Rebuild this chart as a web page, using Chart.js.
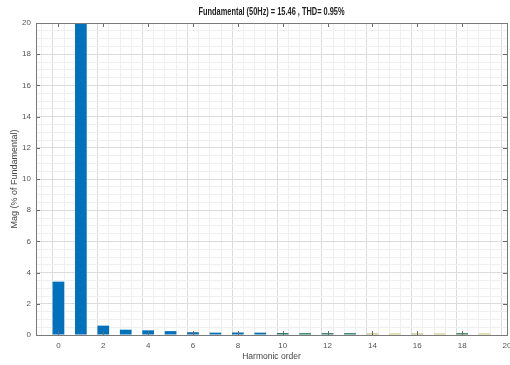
<!DOCTYPE html>
<html>
<head>
<meta charset="utf-8">
<script src="https://cdn.jsdelivr.net/npm/chart.js@4"></script>
<style>
  html, body { margin: 0; padding: 0; background: #fff; }
  #wrap { width: 510px; height: 365px; position: relative; }
</style>
</head>
<body>
<div id="wrap"><canvas id="fft"></canvas></div>
<script>
// harmonic spectrum (MATLAB powergui FFT style)
const ORDERS = [0, 1, 2, 3, 4, 5, 6, 7, 8, 9, 10, 11, 12, 13, 14, 15, 16, 17, 18, 19];
const MAGS = [3.42, 100, 0.6, 0.34, 0.3, 0.25, 0.18, 0.15, 0.16, 0.15, 0.13, 0.12, 0.12, 0.12, 0.1, 0.1, 0.1, 0.1, 0.12, 0.1];
const BAR_COLORS = ['#0072BD', '#0072BD', '#0072BD', '#0072BD', '#0072BD', '#0072BD', '#0A6FAE', '#0A6FAE', '#0A6FAE', '#0A6FAE',
  '#2A7A66', '#2A7A66', '#2A7A66', '#2A7A66', '#B8B46A', '#C8C27A', '#B8B46A', '#C8C27A', '#3F7A5A', '#C8C27A'];
const X_TICKS = [0, 2, 4, 6, 8, 10, 12, 14, 16, 18, 20];
const Y_TICKS = [0, 2, 4, 6, 8, 10, 12, 14, 16, 18, 20];
const TITLE = 'Fundamental (50Hz) = 15.46 , THD= 0.95%';

(function () {
  'use strict';

  var FONT = '"Liberation Sans", Arial, sans-serif';
  var AXIS_TXT = '#555555';
  var MAJOR = '#dcdcdc';
  var MINOR = '#efefef';

  function isMajor(v, list) {
    return list.indexOf(Math.round(v * 100) / 100) !== -1;
  }

  var points = ORDERS.map(function (o, i) { return { x: o, y: MAGS[i] }; });

  // box around the axes + inward tick marks, and the title over the plot
  var framePlugin = {
    id: 'frame',
    afterDatasetsDraw: function (chart) {
      var ctx = chart.ctx, a = chart.chartArea;
      var xs = chart.scales.x, ys = chart.scales.y;
      var len = 4;
      ctx.save();
      ctx.strokeStyle = '#6a6a6a';
      ctx.lineWidth = 1;
      ctx.beginPath();
      X_TICKS.forEach(function (t) {
        var px = Math.round(xs.getPixelForValue(t)) + 0.5;
        if (px > a.right) return;
        ctx.moveTo(px, a.bottom); ctx.lineTo(px, a.bottom - len);
        ctx.moveTo(px, a.top); ctx.lineTo(px, a.top + len);
      });
      Y_TICKS.forEach(function (t) {
        var py = Math.round(ys.getPixelForValue(t)) + 0.5;
        ctx.moveTo(a.left, py); ctx.lineTo(a.left + len, py);
        ctx.moveTo(a.right, py); ctx.lineTo(a.right - len, py);
      });
      ctx.stroke();
      ctx.strokeStyle = '#7a7a7a';
      ctx.strokeRect(Math.round(a.left) + 0.5, Math.round(a.top) + 0.5,
        Math.round(a.right - a.left), Math.round(a.bottom - a.top));
      // title is squeezed horizontally like the narrow font of the source
      ctx.fillStyle = '#222222';
      ctx.font = 'bold 10px ' + FONT;
      ctx.textAlign = 'center';
      ctx.textBaseline = 'middle';
      ctx.translate((a.left + a.right) / 2, 12);
      ctx.scale(0.74, 1);
      ctx.fillText(TITLE, 0, 0);
      ctx.restore();
    }
  };

  new Chart(document.getElementById('fft'), {
    type: 'bar',
    data: {
      datasets: [{
        data: points,
        backgroundColor: BAR_COLORS,
        borderWidth: 0,
        // ruler is the 0.5 minor tick step, so 1.04 -> 0.52 harmonic
        barPercentage: 1.04,
        categoryPercentage: 1
      }]
    },
    plugins: [framePlugin],
    options: {
      responsive: true,
      maintainAspectRatio: false,
      animation: false,
      layout: { padding: { top: 23, right: 3, left: 0, bottom: 0 } },
      plugins: {
        legend: { display: false },
        tooltip: { enabled: false },
        title: { display: false }
      },
      scales: {
        x: {
          type: 'linear',
          min: -1,
          max: 20,
          offset: false,
          border: { display: false },
          grid: {
            drawTicks: false,
            color: function (c) { return c.tick && isMajor(c.tick.value, X_TICKS) ? MAJOR : MINOR; }
          },
          ticks: {
            stepSize: 0.5,
            autoSkip: false,
            maxRotation: 0,
            padding: 6,
            color: AXIS_TXT,
            font: { family: FONT, size: 8 },
            callback: function (v) { return isMajor(v, X_TICKS) ? String(v) : ''; }
          },
          title: {
            display: true,
            text: 'Harmonic order',
            color: '#444444',
            font: { family: FONT, size: 8.5 },
            padding: { top: 0, bottom: 3 }
          },
          afterFit: function (s) { s.height = 30; s.paddingLeft = 0; s.paddingRight = 0; }
        },
        y: {
          min: 0,
          max: 20,
          border: { display: false },
          grid: {
            drawTicks: false,
            color: function (c) { return c.tick && isMajor(c.tick.value, Y_TICKS) ? MAJOR : MINOR; }
          },
          ticks: {
            stepSize: 0.5,
            autoSkip: false,
            padding: 5,
            color: AXIS_TXT,
            font: { family: FONT, size: 8 },
            callback: function (v) { return isMajor(v, Y_TICKS) ? String(v) : ''; }
          },
          title: {
            display: true,
            text: 'Mag (% of Fundamental)',
            color: '#444444',
            font: { family: FONT, size: 9 },
            padding: { top: 9, bottom: 0 }
          },
          afterFit: function (s) { s.width = 36; s.paddingTop = 0; s.paddingBottom = 0; }
        }
      }
    }
  });
})();
</script>
</body>
</html>
